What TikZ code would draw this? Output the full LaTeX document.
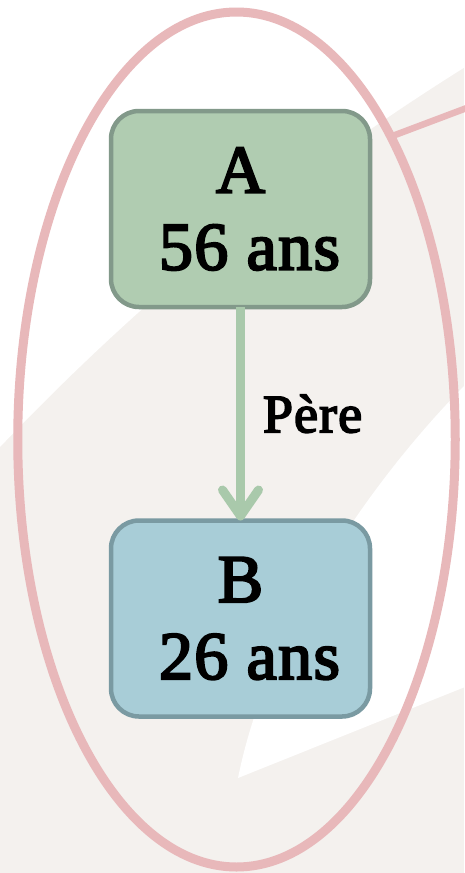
\documentclass[tikz,border=0pt]{standalone}
\usepackage{fontspec}
\setmainfont{Liberation Serif}
\newfontfamily\semib[FakeBold=3.2,LetterSpace=2]{Liberation Serif}
\usetikzlibrary{shapes.geometric,arrows.meta}
\definecolor{bggrey}{HTML}{F4F1EE}
\definecolor{ellpink}{HTML}{E8B8BA}
\definecolor{afill}{HTML}{B0CCB1}
\definecolor{adraw}{HTML}{82998A}
\definecolor{bfill}{HTML}{A8CDD7}
\definecolor{bdraw}{HTML}{7A9AA2}
\definecolor{arrowgreen}{HTML}{A9C9AB}
\begin{document}
\begin{tikzpicture}[x=1pt,y=-1pt,
  box/.style={rounded corners=28pt, line width=4.5pt, minimum width=259pt,
    minimum height=196pt, inner sep=0pt, outer sep=0pt, align=center,
    font=\semib\fontsize{68}{77}\selectfont},
  ring/.style={ellipse, draw=ellpink, line width=9pt, inner sep=0pt, outer sep=0pt},
  link/.style={arrowgreen, line width=9pt, -{Straight Barb[length=26pt,width=36pt,round]}},
  lbl/.style={inner sep=0pt, text=black, font=\semib\fontsize{54}{60}\selectfont}]
\useasboundingbox (0,0) rectangle (464,873);
\fill[bggrey] (0,0) rectangle (464,873);
\fill[white] (0,0) -- (470,0) -- (470,64) .. controls (300,170) and (150,290) .. (0,447) -- cycle;
\fill[white] (470,380) .. controls (380,470) and (270,620) .. (238,778) -- (470,685) -- cycle;
\node[ring, minimum width=437.5pt, minimum height=855pt] (E) at (236.5,439.5) {};
\coordinate (C) at (480,103);
\draw[ellpink, line width=6.5pt] (E.63) -- (C);
\node[box, fill=afill, draw=adraw] (A) at (240.5,209) {A\\\hspace*{18pt}56 ans};
\node[box, fill=bfill, draw=bdraw] (B) at (240.5,618.5) {B\\\hspace*{18pt}26 ans};
\draw[link] (A) -- (B) node[lbl, midway, anchor=west, xshift=18pt] (P) {Père};
\end{tikzpicture}
\end{document}
